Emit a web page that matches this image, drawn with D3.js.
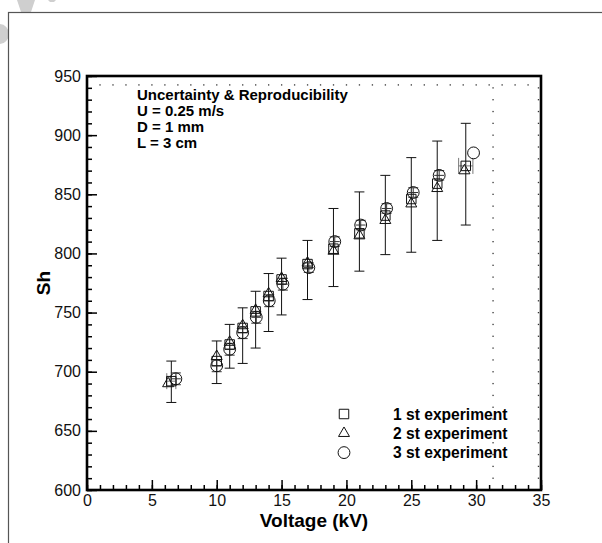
<!DOCTYPE html>
<html>
<head>
<meta charset="utf-8">
<script src="https://cdn.jsdelivr.net/npm/d3@7"></script>
<style>
  body { margin: 0; background: #fff; }
  svg { display: block; font-family: "Liberation Sans", Arial, sans-serif; }
  .tick text { font-size: 16px; fill: #111; }
  .tick line { stroke: #000; stroke-width: 1.5; }
</style>
</head>
<body>
<div id="chart"></div>
<script>
// chart size and plot box
const WIDTH = 602;
const HEIGHT = 543;
const PLOT = { left: 87, right: 541, top: 76, bottom: 490 };

// data
const voltage1 = [6.5, 10, 11, 12, 13, 14, 15, 17, 19, 21, 23, 25, 27, 29.2];
const sh1 = [692, 709, 723, 737, 751, 764, 778, 791, 804, 817, 832, 846, 859, 874];
const voltage2 = [6.25, 10, 11, 12, 13, 14, 15, 17, 19, 21, 23, 25, 27, 29.1];
const sh2 = [690, 713, 725, 739, 752, 766, 779, 792, 802, 815, 828, 842, 855, 870];
const voltage3 = [6.85, 10, 11, 12, 13.05, 14.05, 15.1, 17.1, 19.1, 21.1, 23.1, 25.15, 27.15, 29.8];
const sh3 = [694, 705, 719, 733, 746, 760, 774, 788, 810, 824, 838, 851.5, 866, 885];
// uncertainty bars (around experiment 1)
const errLow = [674, 690, 703, 707, 720, 734, 748, 761, 772, 785, 799, 801, 811, 824];
const errHigh = [709, 726, 740, 754, 768, 783, 796, 811, 838, 852, 866, 881, 895, 910];
// small scatter bars on experiment 3
const errSmall3 = [5, 5, 5, 5, 5, 5, 5, 4, 4, 4, 4, 4, 4, 0];

const xTicks = [0, 5, 10, 15, 20, 25, 30, 35];
const yTicks = [600, 650, 700, 750, 800, 850, 900, 950];
const infoLines = ["Uncertainty & Reproducibility", "U = 0.25 m/s", "D = 1 mm", "L = 3 cm"];
const legendLabels = ["1 st experiment", "2 st experiment", "3 st experiment"];

const svg = d3.select("#chart").append("svg")
  .attr("width", WIDTH)
  .attr("height", HEIGHT);

// faint watermark pieces in the top left corner
const wm = svg.append("g").attr("fill", "#cfcfcf");
wm.append("path").attr("d", "M17,0 L35,0 L31,12 L21,12 Z");
wm.append("path").attr("d", "M48,0 L56,0 L54,2 L50,2 Z");
wm.append("path").attr("d", "M0,24 A8,9 0 0 1 0,44 Z");

// outer frame of the page
svg.append("rect")
  .attr("x", 8.5).attr("y", 12.5)
  .attr("width", 700).attr("height", 700)
  .attr("fill", "none").attr("stroke", "#555").attr("stroke-width", 1.2);

let x = d3.scaleLinear().domain([0, 35]).range([PLOT.left, PLOT.right]);
let y = d3.scaleLinear().domain([600, 950]).range([PLOT.bottom, PLOT.top]);

// dotted lines left by the plotting program
const dots = svg.append("g").attr("fill", "#333");
dots.selectAll("rect.hd")
  .data(d3.range(1, 35))
  .join("rect")
  .attr("x", (d) => x(d) - 0.6).attr("y", y(942.5) - 0.6)
  .attr("width", 1.3).attr("height", 1.3);
[31.3, 34.8].forEach((v) => {
  dots.append("g").selectAll("rect")
    .data(d3.range(610, 950, 10))
    .join("rect")
    .attr("x", x(v) - 0.6).attr("y", (d) => y(d) - 0.6)
    .attr("width", 1.3).attr("height", 1.3);
});

// axes with inward ticks
let xAxis = d3.axisBottom(x).tickValues(xTicks).tickSizeInner(-10).tickSizeOuter(0).tickPadding(5);
let xMinor = d3.axisBottom(x).tickValues(d3.range(0, 36)).tickSizeInner(-5).tickSizeOuter(0).tickFormat("");
let yAxis = d3.axisLeft(y).tickValues(yTicks).tickSizeInner(-10).tickSizeOuter(0).tickPadding(6);
let yMinor = d3.axisLeft(y).tickValues(d3.range(600, 951, 10)).tickSizeInner(-5).tickSizeOuter(0).tickFormat("");

svg.append("g").attr("transform", `translate(0,${PLOT.bottom})`).call(xMinor);
svg.append("g").attr("transform", `translate(0,${PLOT.bottom})`).call(xAxis);
svg.append("g").attr("transform", `translate(${PLOT.left},0)`).call(yMinor);
svg.append("g").attr("transform", `translate(${PLOT.left},0)`).call(yAxis);
svg.selectAll(".domain").remove();

svg.append("rect")
  .attr("x", PLOT.left).attr("y", PLOT.top)
  .attr("width", PLOT.right - PLOT.left).attr("height", PLOT.bottom - PLOT.top)
  .attr("fill", "none").attr("stroke", "#000").attr("stroke-width", 2.6);

// axis titles
svg.append("text")
  .attr("x", (PLOT.left + PLOT.right) / 2).attr("y", 527)
  .attr("text-anchor", "middle")
  .attr("font-size", 19).attr("font-weight", "bold")
  .text("Voltage (kV)");
svg.append("text")
  .attr("transform", `translate(50,${(PLOT.top + PLOT.bottom) / 2}) rotate(-90)`)
  .attr("text-anchor", "middle")
  .attr("font-size", 19).attr("font-weight", "bold")
  .text("Sh");

// info block
svg.append("g").selectAll("text")
  .data(infoLines)
  .join("text")
  .attr("x", 137).attr("y", (d, i) => 100 + i * 16)
  .attr("font-size", 15).attr("font-weight", "bold")
  .text((d) => d);

const marks = svg.append("g").attr("fill", "none").attr("stroke", "#111").attr("stroke-width", 1);

// big uncertainty bars
const bars = marks.append("g");
voltage1.forEach((v, i) => {
  bars.append("line")
    .attr("x1", x(v)).attr("x2", x(v))
    .attr("y1", y(errLow[i])).attr("y2", y(errHigh[i]));
  [errLow[i], errHigh[i]].forEach((e) => {
    bars.append("line")
      .attr("x1", x(v) - 5).attr("x2", x(v) + 5)
      .attr("y1", y(e)).attr("y2", y(e));
  });
});

// small bars on experiment 3
const small = marks.append("g").attr("stroke", "#333");
voltage3.forEach((v, i) => {
  if (!errSmall3[i]) return;
  small.append("line")
    .attr("x1", x(v)).attr("x2", x(v))
    .attr("y1", y(sh3[i] - errSmall3[i])).attr("y2", y(sh3[i] + errSmall3[i]));
  [sh3[i] - errSmall3[i], sh3[i] + errSmall3[i], sh3[i]].forEach((e) => {
    small.append("line")
      .attr("x1", x(v) - 5).attr("x2", x(v) + 5)
      .attr("y1", y(e)).attr("y2", y(e));
  });
});

// horizontal gray bars on experiment 1
const hbar = marks.append("g").attr("stroke", "#777");
[[0, 0.35], [13, 0.55]].forEach(([i, w]) => {
  let v = voltage1[i];
  hbar.append("line")
    .attr("x1", x(v - w)).attr("x2", x(v + w))
    .attr("y1", y(sh1[i])).attr("y2", y(sh1[i]));
  [v - w, v + w].forEach((e) => {
    hbar.append("line")
      .attr("x1", x(e)).attr("x2", x(e))
      .attr("y1", y(sh1[i]) - 8).attr("y2", y(sh1[i]) + 8);
  });
});

const squarePath = d3.symbol().type(d3.symbolSquare).size(90);
const trianglePath = d3.symbol().type(d3.symbolTriangle).size(52);
const circlePath = d3.symbol().type(d3.symbolCircle).size(110);

function drawSeries(xs, ys, path) {
  marks.append("g").selectAll("path")
    .data(xs.map((v, i) => [v, ys[i]]))
    .join("path")
    .attr("d", path)
    .attr("transform", (d) => `translate(${x(d[0])},${y(d[1])})`);
}
drawSeries(voltage1, sh1, squarePath);
drawSeries(voltage2, sh2, trianglePath);
drawSeries(voltage3, sh3, circlePath);

// legend
const legend = svg.append("g");
const legendPaths = [squarePath, trianglePath, circlePath];
legendLabels.forEach((label, i) => {
  let cy = 414 + i * 19.3;
  legend.append("path")
    .attr("d", legendPaths[i])
    .attr("transform", `translate(344,${cy})`)
    .attr("fill", "none").attr("stroke", "#111");
  legend.append("text")
    .attr("x", 393).attr("y", cy + 5.5)
    .attr("font-size", 15.6).attr("font-weight", "bold")
    .text(label);
});
</script>
</body>
</html>
